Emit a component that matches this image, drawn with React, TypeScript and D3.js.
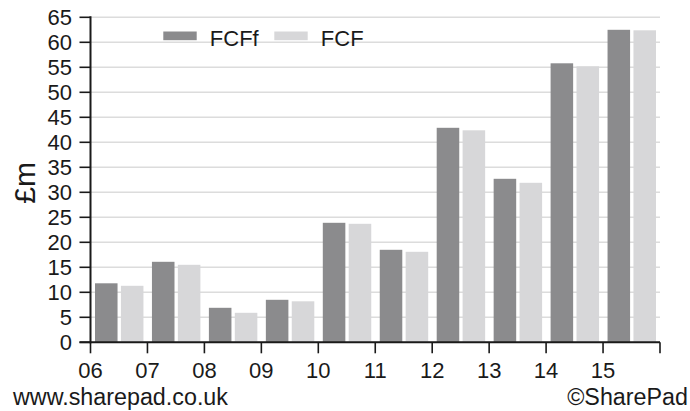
import React from "react";
import * as d3 from "d3";

// Financial years (two-digit labels) and free cash flow series, £m
const years = ["06", "07", "08", "09", "10", "11", "12", "13", "14", "15"];
const fcffValues = [11.8, 16.1, 6.9, 8.5, 23.9, 18.5, 42.9, 32.7, 55.8, 62.5];
const fcfValues = [11.3, 15.5, 5.9, 8.2, 23.7, 18.1, 42.4, 31.9, 55.2, 62.4];
const seriesNames = ["FCFf", "FCF"];
const seriesColors = ["#8b8b8d", "#d7d7d9"];
const yTicks = d3.range(0, 70, 5);

const W = 690;
const H = 411;
const FONT = "'Liberation Sans', Arial, Helvetica, sans-serif";

export default function App() {
  const left = 90.5;
  const right = 660;
  const top = 17.3;
  const bottom = 342.3;

  const x = d3.scaleBand<string>().domain(years).range([left, right]).padding(0);
  const y = d3.scaleLinear().domain([0, 65]).range([bottom, top]);
  const step = x.bandwidth();
  const inner = d3
    .scaleBand<string>()
    .domain(seriesNames)
    .range([4.5, step - 4])
    .paddingInner(0.13);

  const seriesValues = [fcffValues, fcfValues];

  return (
    <svg
      width={W}
      height={H}
      viewBox={`0 0 ${W} ${H}`}
      style={{ position: "absolute", left: 0, top: 0, background: "#fff" }}
    >
      <rect width={W} height={H} fill="#fff" />
      {/* horizontal gridlines */}
      {yTicks.map((t) => (
        <line
          key={`g${t}`}
          x1={left}
          x2={right}
          y1={y(t)}
          y2={y(t)}
          stroke="#dcdcdc"
          strokeWidth={1.6}
        />
      ))}

      {/* grouped bars */}
      {years.map((yr, i) => (
        <g key={yr} transform={`translate(${x(yr)},0)`}>
          {seriesNames.map((s, k) => {
            const v = seriesValues[k][i];
            return (
              <rect
                key={s}
                x={inner(s)}
                y={y(v)}
                width={inner.bandwidth()}
                height={y(0) - y(v)}
                fill={seriesColors[k]}
              />
            );
          })}
        </g>
      ))}

      {/* y axis */}
      <line x1={left} x2={left} y1={top - 1} y2={bottom + 1} stroke="#1a1a1a" strokeWidth={2} />
      {yTicks.map((t) => (
        <g key={`yt${t}`}>
          <line x1={left - 11} x2={left} y1={y(t)} y2={y(t)} stroke="#1a1a1a" strokeWidth={1.6} />
          <text
            x={left - 18.5}
            y={y(t)}
            dy="0.36em"
            textAnchor="end"
            fontFamily={FONT}
            fontSize={22}
            fill="#1a1a1a"
          >
            {t}
          </text>
        </g>
      ))}

      {/* x axis */}
      <line x1={left - 11} x2={right} y1={bottom} y2={bottom} stroke="#1a1a1a" strokeWidth={2} />
      {[...years.map((yr) => x(yr) as number), right].map((px, i) => (
        <line key={`xt${i}`} x1={px} x2={px} y1={bottom} y2={bottom + 11} stroke="#1a1a1a" strokeWidth={1.6} />
      ))}
      {years.map((yr) => (
        <text
          key={`xl${yr}`}
          x={x(yr) as number}
          y={bottom + 36}
          textAnchor="middle"
          fontFamily={FONT}
          fontSize={22}
          fill="#1a1a1a"
        >
          {yr}
        </text>
      ))}

      {/* y axis title */}
      <text
        transform={`translate(35,${(top + bottom) / 2 + 3}) rotate(-90)`}
        textAnchor="middle"
        fontFamily={FONT}
        fontSize={30}
        fill="#1a1a1a"
      >
        £m
      </text>

      {/* legend */}
      {seriesNames.map((s, k) => (
        <g key={`lg${s}`} transform={`translate(${163.3 + k * 111},0)`}>
          <rect x={0} y={31.5} width={33.4} height={8.7} fill={seriesColors[k]} />
          <text x={46.5} y={45.5} fontFamily={FONT} fontSize={22} fill="#1a1a1a">
            {s}
          </text>
        </g>
      ))}

      {/* footer */}
      <text x={13} y={405} fontFamily={FONT} fontSize={23.3} fill="#1a1a1a">
        www.sharepad.co.uk
      </text>
      <text x={688} y={405} textAnchor="end" fontFamily={FONT} fontSize={23.3} fill="#1a1a1a">
        ©SharePad
      </text>
    </svg>
  );
}
